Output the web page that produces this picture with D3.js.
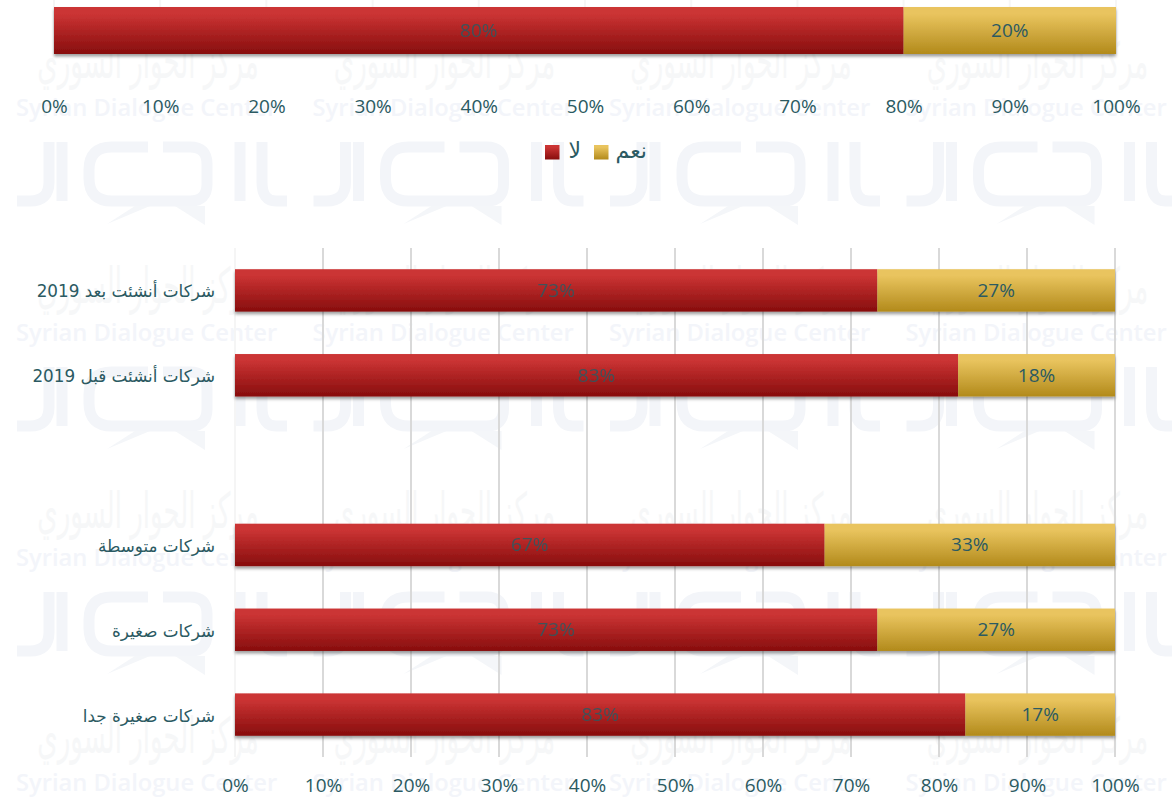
<!DOCTYPE html>
<html><head><meta charset="utf-8">
<script src="https://cdn.jsdelivr.net/npm/d3@7"></script>
<style>
html,body{margin:0;padding:0;background:#fff}
svg{display:block}
text{font-family:"Open Sans","DejaVu Sans",sans-serif;fill:#2b5a62}
text.ar{font-family:"DejaVu Sans",sans-serif}
</style></head><body>
<svg id="c" width="1172" height="798"></svg>
<script>
const tickValues=[0,10,20,30,40,50,60,70,80,90,100];
const seriesNames=["لا","نعم"];
const topNo=[80], topYes=[20];
const categories=["شركات أنشئت بعد 2019","شركات أنشئت قبل 2019","","شركات متوسطة","شركات صغيرة","شركات صغيرة جدا"];
const noValues=[73,83,null,67,73,83];
const yesValues=[27,18,null,33,27,17];
const wmColumns=[0,1,2,3], wmRows=[0,1,2,3];
const wmLatin="Syrian Dialogue Center", wmArabic="مركز الحوار السوري";

const svg=d3.select("#c");
const defs=svg.append("defs");
function grad(id,a,b){const g=defs.append("linearGradient").attr("id",id).attr("x1",0).attr("x2",0).attr("y1",0).attr("y2",1);
 g.append("stop").attr("offset","15%").attr("stop-color",a);g.append("stop").attr("offset","100%").attr("stop-color",b);}
grad("gNo","#cb3434","#870d0d");grad("gYes","#e9c45e","#b28a1b");
const f=defs.append("filter").attr("id","sh").attr("x","-2%").attr("y","-20%").attr("width","104%").attr("height","150%");
f.append("feDropShadow").attr("dx",0).attr("dy",2.5).attr("stdDeviation",1.8).attr("flood-color","#000").attr("flood-opacity",.38);

// watermark
const wm=svg.append("g");
const logo="M17 201H30Q49 201 49 182V142 M62 142V201 M148 147H112Q89 147 89 170V178Q89 201 112 201H190Q207 201 207 184V164Q207 147 190 147H163 M240 142V201 M262 142V182Q262 201 276 201H287";
wmColumns.forEach(c=>wmRows.forEach(r=>{
  const g=wm.append("g").attr("transform",`translate(${c*296.5},${r*225})`);
  g.append("text").attr("class","ar").attr("text-anchor","middle").attr("direction","rtl")
   .attr("transform","translate(148,78) scale(1,1.9)")
   .attr("font-size",26).style("fill","#f6f7f8").text(wmArabic);
  g.append("text").attr("x",16).attr("y",116).attr("font-size",23.7).attr("font-weight",600).style("fill","#f3f5fa").text(wmLatin);
  if(r<3){
   g.append("path").attr("d",logo).attr("fill","none").attr("stroke","#f3f5f9").attr("stroke-width",11);
   g.append("path").attr("d","M150 206H205L205 225L175 206H135L107 224Z").attr("fill","#f4f6f9");
  }
}));

function chart(x,y,rows,gridTop,gridColor){
  const axis=d3.axisBottom(x).tickValues(tickValues).tickFormat(d=>d+"%").tickSize(0).tickPadding(0);
  const g=svg.append("g");
  g.selectAll("line.grid").data(tickValues).join("line").attr("x1",d=>x(d)).attr("x2",d=>x(d))
   .attr("y1",gridTop).attr("y2",y.range()[1]).attr("stroke",d=>d===0?"#f5f5f5":gridColor).attr("stroke-width",2);
  const share=d=>d.no/(d.no+d.yes)*100;
  const bars=g.selectAll("g.row").data(rows.filter(d=>d.no!=null)).join("g");
  const sh=bars.append("g").attr("filter","url(#sh)");
  sh.append("rect").attr("x",x(0)).attr("y",d=>y(d.c)).attr("width",d=>x(share(d))-x(0)).attr("height",y.bandwidth()).attr("fill","url(#gNo)");
  sh.append("rect").attr("x",d=>x(share(d))).attr("y",d=>y(d.c)).attr("width",d=>x(100)-x(share(d))).attr("height",y.bandwidth()).attr("fill","url(#gYes)");
  bars.append("text").attr("x",d=>x(share(d)/2)).attr("y",d=>y(d.c)+y.bandwidth()/2+6.5).attr("text-anchor","middle").attr("font-size",19).attr("opacity",.85).text(d=>d.no+"%");
  bars.append("text").attr("x",d=>x((share(d)+100)/2)).attr("y",d=>y(d.c)+y.bandwidth()/2+6.5).attr("text-anchor","middle").attr("font-size",19).text(d=>d.yes+"%");
  return {g,axis};
}
// top chart
const x1=d3.scaleLinear().domain([0,100]).range([54,1116]);
const y1=d3.scaleBand().domain(["all"]).range([7,54]);
const t=chart(x1,y1,[{c:"all",no:topNo[0],yes:topYes[0]}],0,"#f6f6f6");
t.g.append("g").attr("transform","translate(0,113)").call(t.axis).call(s=>s.select(".domain").remove())
 .selectAll("text").attr("font-size",19).attr("font-family",null).attr("dy",0).attr("y",0);
// bottom chart
const x2=d3.scaleLinear().domain([0,100]).range([235,1115]);
const y2=d3.scaleBand().domain(categories).range([248,757]).paddingInner(.5).paddingOuter(.25);
const rows=categories.map((c,i)=>({c,no:noValues[i],yes:yesValues[i]}));
const b=chart(x2,y2,rows,248,"#d9d9d9");
b.g.append("g").attr("transform","translate(0,792)").call(b.axis).call(s=>s.select(".domain").remove())
 .selectAll("text").attr("font-size",19).attr("font-family",null).attr("dy",0).attr("y",0);
// category labels
b.g.append("g").attr("transform","translate(215,0)").call(d3.axisLeft(y2).tickSize(0).tickPadding(0))
 .call(s=>s.select(".domain").remove())
 .selectAll("text").attr("class","ar").attr("font-size",16.8).attr("font-family",null).attr("text-anchor","start").attr("direction","rtl").attr("x",0).attr("dy","0.42em");

// legend
const legend=svg.append("g");
const lx=[545,594], ltx=[581,647];
seriesNames.forEach((n,i)=>{
 legend.append("rect").attr("x",lx[i]).attr("y",145).attr("width",14.5).attr("height",14.5).attr("fill",i?"url(#gYes)":"url(#gNo)");
 legend.append("text").attr("class","ar").attr("x",ltx[i]).attr("y",158).attr("font-size",22).attr("text-anchor","start").attr("direction","rtl").text(n);
});
</script>
</body></html>
